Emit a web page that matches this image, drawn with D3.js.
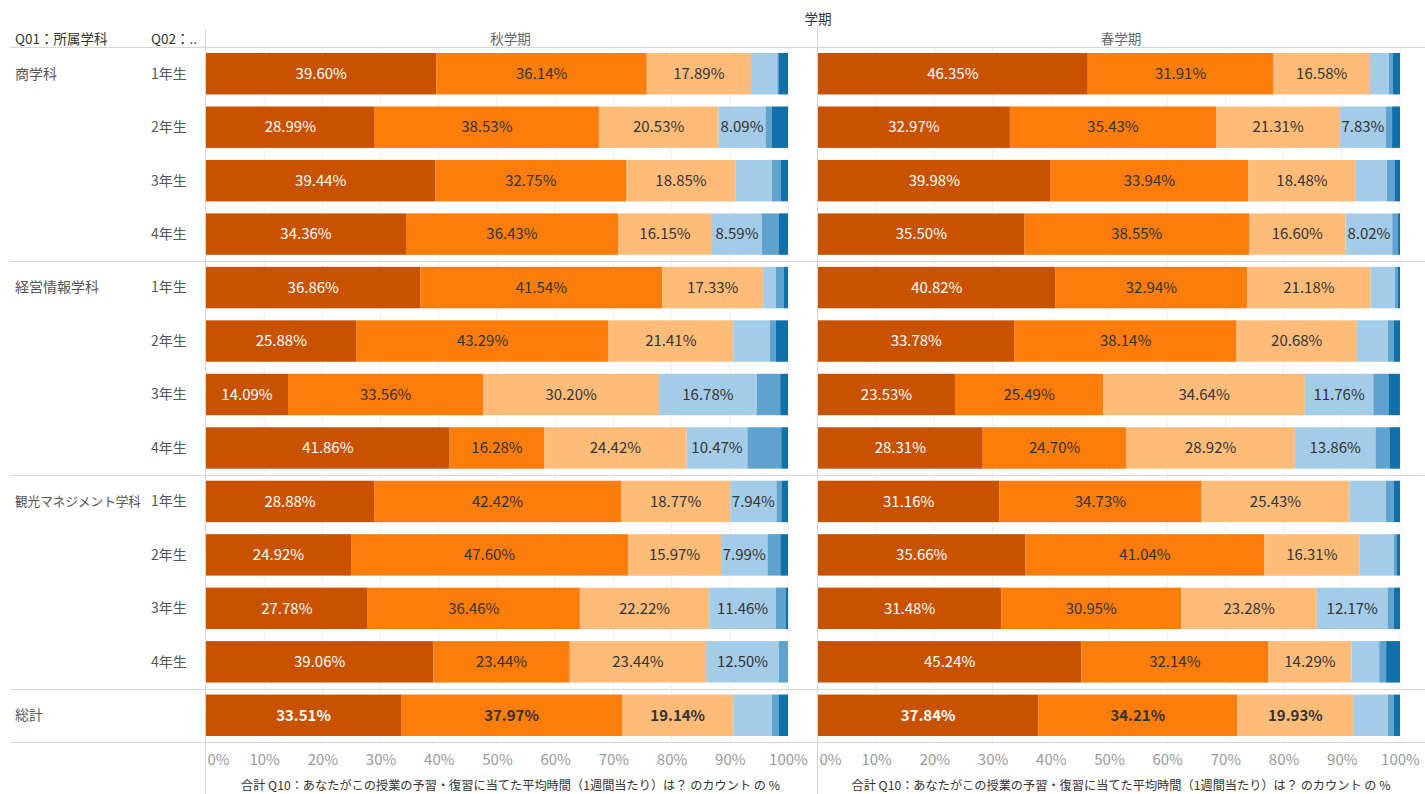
<!DOCTYPE html>
<html><head><meta charset="utf-8">
<script src="https://cdn.jsdelivr.net/npm/d3@7"></script>
<style>
body{margin:0;background:#fff;}
text{font-family:"Noto Sans CJK JP","Noto Sans",sans-serif;}
</style></head>
<body>
<svg id="chart" width="1425" height="794"></svg>
<script>
// ---- data ----
const departments = ["商学科","経営情報学科","観光マネジメント学科","総計"];
const years = ["1年生","2年生","3年生","4年生"];
const terms = ["秋学期","春学期"];
const answerKeys = ["k1","k2","k3","k4","k5","k6"];
const rowDept = ["商学科","商学科","商学科","商学科","経営情報学科","経営情報学科","経営情報学科","経営情報学科","観光マネジメント学科","観光マネジメント学科","観光マネジメント学科","観光マネジメント学科","総計"];
const rowYear = ["1年生","2年生","3年生","4年生","1年生","2年生","3年生","4年生","1年生","2年生","3年生","4年生",""];
const autumnValues = [
  [39.60,36.14,17.89,4.53,0.29,1.55],
  [28.99,38.53,20.53,8.09,1.10,2.76],
  [39.44,32.75,18.85,6.21,1.55,1.20],
  [34.36,36.43,16.15,8.59,2.92,1.55],
  [36.86,41.54,17.33,2.20,1.37,0.70],
  [25.88,43.29,21.41,6.33,1.03,2.06],
  [14.09,33.56,30.20,16.78,4.03,1.34],
  [41.86,16.28,24.42,10.47,5.81,1.16],
  [28.88,42.42,18.77,7.94,0.86,1.13],
  [24.92,47.60,15.97,7.99,2.20,1.32],
  [27.78,36.46,22.22,11.46,1.74,0.35],
  [39.06,23.44,23.44,12.50,1.56,0.00],
  [33.51,37.97,19.14,6.63,1.20,1.55]
];
const springValues = [
  [46.35,31.91,16.58,3.27,0.69,1.20],
  [32.97,35.43,21.31,7.83,1.10,1.36],
  [39.98,33.94,18.48,5.37,1.37,0.86],
  [35.50,38.55,16.60,8.02,1.00,0.33],
  [40.82,32.94,21.18,4.20,0.50,0.36],
  [33.78,38.14,20.68,5.34,1.03,1.03],
  [23.53,25.49,34.64,11.76,2.61,1.96],
  [28.31,24.70,28.92,13.86,2.41,1.81],
  [31.16,34.73,25.43,6.28,1.37,1.03],
  [35.66,41.04,16.31,5.95,0.52,0.52],
  [31.48,30.95,23.28,12.17,1.06,1.06],
  [45.24,32.14,14.29,4.76,1.19,2.38],
  [37.84,34.21,19.93,5.96,1.03,1.03]
];
const tickValues = [0,10,20,30,40,50,60,70,80,90,100];
const axisTitle = "合計 Q10：あなたがこの授業の予習・復習に当てた平均時間（1週間当たり）は？ のカウント の %";
const colors = ["#c85200","#fc7d0b","#ffbc79","#a3cce9","#5fa2ce","#1170aa"];

// ---- layout ----
const svg = d3.select("#chart");
const W = 1425;
const rowIdx = d3.range(rowDept.length);
const y = d3.scaleBand().domain(rowIdx).range([47,742]).paddingInner(0.225).paddingOuter(0.1125);
const panes = [
  {term:terms[0], values:autumnValues, x:d3.scaleLinear().domain([0,100]).range([206,788]), left:205, right:816},
  {term:terms[1], values:springValues, x:d3.scaleLinear().domain([0,100]).range([818,1400]), left:817, right:1425}
];
const color = d3.scaleOrdinal().domain(answerKeys).range(colors);
const lineCol = "#d6d6d6";

// gridlines
panes.forEach(p=>{
  svg.append("g").selectAll("line").data(tickValues.slice(1)).join("line")
    .attr("x1",d=>p.x(d)).attr("x2",d=>p.x(d)).attr("y1",47).attr("y2",742)
    .attr("stroke","#efefef").attr("stroke-width",1);
});

// bars
panes.forEach(p=>{
  const rows = p.values.map((v,i)=>{const o={i}; answerKeys.forEach((k,j)=>o[k]=v[j]); return o;});
  const stack = d3.stack().keys(answerKeys)(rows);
  const g = svg.append("g");
  stack.forEach(layer=>{
    g.append("g").selectAll("rect").data(layer).join("rect")
      .attr("x",d=>p.x(d[0])).attr("width",d=>Math.max(0,p.x(d[1])-p.x(d[0])))
      .attr("y",d=>y(d.data.i)).attr("height",y.bandwidth())
      .attr("fill",color(layer.key));
    g.append("g").selectAll("text").data(layer.filter(d=>d[1]-d[0]>=7)).join("text")
      .attr("x",d=>(p.x(d[0])+p.x(d[1]))/2).attr("y",d=>y(d.data.i)+y.bandwidth()/2)
      .attr("text-anchor","middle").attr("dy","0.35em")
      .attr("font-size",15)
      .attr("font-weight",d=>d.data.i===12?700:400)
      .attr("fill",layer.key==="k1"?"#ffffff":"#333333")
      .text(d=>(d[1]-d[0]).toFixed(2)+"%");
  });
});

// horizontal lines
[47,261,475,689,742].forEach(yy=>{
  svg.append("line").attr("x1",10).attr("x2",W).attr("y1",yy+0.5).attr("y2",yy+0.5).attr("stroke",lineCol);
});
// vertical pane borders
[205,817].forEach(xx=>{
  svg.append("line").attr("x1",xx+0.5).attr("x2",xx+0.5).attr("y1",29).attr("y2",794).attr("stroke",lineCol);
});

// axes
panes.forEach(p=>{
  const ax = d3.axisBottom(p.x).tickValues(tickValues).tickSize(0).tickFormat(d=>d+"%");
  const ag = svg.append("g").attr("transform","translate(0,742)").call(ax);
  ag.select(".domain").remove();
  ag.selectAll("text").attr("font-size",15).attr("fill","#999").attr("dy",0).attr("y",23)
    .attr("font-family",'"Noto Sans CJK JP","Noto Sans",sans-serif')
    .attr("text-anchor",d=>d===0?"start":"middle")
    .attr("x",d=>d===0?1:0);
  svg.append("text").attr("x",(p.left+p.right)/2).attr("y",790).attr("text-anchor","middle")
    .attr("font-size",12.2).attr("fill","#333").text(axisTitle);
  svg.append("text").attr("x",(p.left+p.right)/2).attr("y",44).attr("text-anchor","middle")
    .attr("font-size",13.5).attr("fill","#666").text(p.term);
});

// header
svg.append("text").attr("x",818).attr("y",24).attr("text-anchor","middle").attr("font-size",13.5).attr("fill","#333").text("学期");
svg.append("text").attr("x",15).attr("y",44).attr("font-size",13.5).attr("fill","#333").text("Q01：所属学科");
svg.append("text").attr("x",151).attr("y",44).attr("font-size",13.5).attr("fill","#333").text("Q02：..");

// row labels
rowIdx.forEach(i=>{
  const cy = y(i)+y.bandwidth()/2;
  if(i===0 || rowDept[i]!==rowDept[i-1]){
    const t = svg.append("text").attr("x",15).attr("y",cy).attr("dy","0.35em").attr("font-size",14).attr("fill","#555").text(rowDept[i]);
    const len = t.node().getComputedTextLength();
    if(len>126) t.attr("font-size",14*126/len);
  }
  if(rowYear[i]) svg.append("text").attr("x",151).attr("y",cy).attr("dy","0.35em").attr("font-size",14).attr("fill","#555").text(rowYear[i]);
});
</script>
</body></html>
